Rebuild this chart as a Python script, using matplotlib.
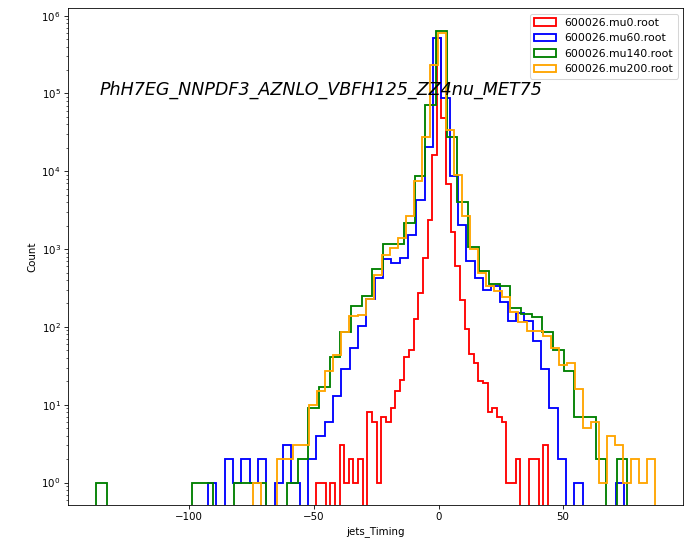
import numpy as np
import matplotlib
matplotlib.use('Agg')
import matplotlib.pyplot as plt

# per-file histogram: 50 bins between the min and max jet time
labels = ['600026.mu0.root', '600026.mu60.root', '600026.mu140.root', '600026.mu200.root']
colors = ['red', 'blue', 'green', 'orange']

# bin ranges (ns)
lo_mu0, hi_mu0 = -49.0, 43.9
lo_mu60, hi_mu60 = -92.5, 74.6
lo_mu140, hi_mu140 = -137.5, 75.8
lo_mu200, hi_mu200 = -74.5, 87.0

# bin contents
counts_mu0 = [1, 1, 0, 1, 0, 3, 1, 2, 1, 2,
              0, 8, 6, 1, 7, 6, 9, 15, 21, 41,
              51, 125, 270, 770, 2400, 16300, 510000, 49000, 6800, 1650,
              600, 225, 95, 45, 34, 20, 19, 8, 9, 7,
              6, 1, 1, 2, 0, 0, 2, 2, 0, 3]
counts_mu60 = [1, 0, 2, 1, 2, 1, 2, 0, 1, 3,
               1, 0, 2, 4, 6, 13, 29, 54, 103, 230,
               430, 750, 670, 760, 1520, 4300, 20700, 510000, 88000, 8800,
               2050, 700, 420, 300, 335, 210, 120, 150, 120, 65,
               29, 9, 2, 0, 1, 0, 0, 0, 0, 1]
counts_mu140 = [1, 0, 0, 0, 0, 0, 0, 0, 0, 1,
                1, 0, 0, 1, 1, 1, 0, 0, 1, 2,
                9, 17, 41, 85, 185, 252, 550, 1180, 1180, 2170,
                8800, 72000, 640000, 27600, 4050, 1060, 520, 360, 335, 177,
                145, 133, 87, 51, 27, 7, 7, 2, 0, 2]
counts_mu200 = [1, 0, 0, 2, 2, 3, 3, 10, 15, 27,
                44, 85, 137, 142, 230, 460, 850, 1040, 1390, 2650,
                7500, 27500, 230000, 590000, 33500, 8850, 2700, 1010, 500, 335,
                290, 243, 156, 117, 88, 88, 76, 54, 32, 34,
                16, 5, 6, 1, 4, 3, 1, 2, 1, 2]

ranges = [(lo_mu0, hi_mu0), (lo_mu60, hi_mu60), (lo_mu140, hi_mu140), (lo_mu200, hi_mu200)]
all_counts = [counts_mu0, counts_mu60, counts_mu140, counts_mu200]

# big canvas saved at low dpi -> 693x542 px
dpi = 74
fig, ax = plt.subplots(figsize=(693 / dpi, 542 / dpi), dpi=dpi)
fig.subplots_adjust(left=0.098, right=0.986, top=0.985, bottom=0.068)

for (lo, hi), c, col, lab in zip(ranges, all_counts, colors, labels):
    edges = np.linspace(lo, hi, len(c) + 1)
    ax.hist(edges[:-1], bins=edges, weights=c, histtype='step', color=col,
            label=lab, log=True, linewidth=1.8)

ax.text(0.052, 0.835, 'PhH7EG_NNPDF3_AZNLO_VBFH125_ZZ4nu_MET75', transform=ax.transAxes,
        fontsize=17, style='italic', va='center')
ax.set_xlabel('jets_Timing')
ax.set_ylabel('Count')
ax.legend(loc='upper right', fontsize=10.6)

fig.savefig('out.png', dpi=dpi)
